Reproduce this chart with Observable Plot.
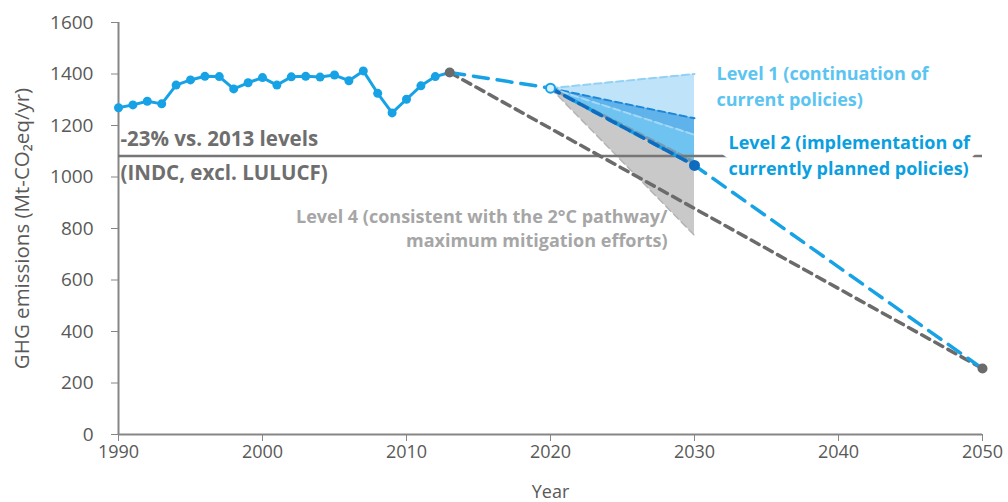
<!DOCTYPE html>
<html>
<head>
<meta charset="utf-8">
<script src="https://cdn.jsdelivr.net/npm/d3@7"></script>
<script src="https://cdn.jsdelivr.net/npm/@observablehq/plot@0.6"></script>
<style>
  html, body { margin: 0; padding: 0; background: #fff; }
  #chart svg { display: block; }
</style>
</head>
<body>
<div id="chart"></div>
<script>
// Historical GHG emissions (Mt-CO2eq/yr), 1990–2013
const histYears  = [1990, 1991, 1992, 1993, 1994, 1995, 1996, 1997, 1998, 1999, 2000, 2001,
                    2002, 2003, 2004, 2005, 2006, 2007, 2008, 2009, 2010, 2011, 2012, 2013];
const histValues = [1269, 1280, 1294, 1284, 1357, 1377, 1391, 1390, 1342, 1366, 1386, 1357,
                    1389, 1391, 1388, 1396, 1374, 1412, 1325, 1249, 1302, 1354, 1390, 1406];

// Projection path (level 2 / INDC trajectory)
const projYears  = [2013, 2020, 2030, 2050];
const projValues = [1406, 1345, 1045, 256];

// Straight path towards the 2050 goal
const goalYears  = [2013, 2050];
const goalValues = [1406, 256];

// Policy fans, spreading from 2020 to 2030
const fanYears   = [2020, 2030];
const level1Low  = [1345, 1228];
const level1High = [1345, 1400];
const overlapLow = [1345, 1164];
const level2Low  = [1345, 1045];
const level4Low  = [1345, 773];
const level4High = [1345, 1058];

// INDC target: -23% vs. 2013
const targetValue = 1082;

// Axis ticks
const xTicks = [1990, 2000, 2010, 2020, 2030, 2040, 2050];
const yTicks = [0, 200, 400, 600, 800, 1000, 1200, 1400, 1600];

const hist = histYears.map((year, i) => ({year, value: histValues[i]}));
const proj = projYears.map((year, i) => ({year, value: projValues[i]}));
const goal = goalYears.map((year, i) => ({year, value: goalValues[i]}));
const fan = fanYears.map((year, i) => ({
  year,
  l1lo: level1Low[i], l1hi: level1High[i],
  ovlo: overlapLow[i],
  l2lo: level2Low[i],
  l4lo: level4Low[i], l4hi: level4High[i]
}));
const fanEdge = (key) => fan.map(d => ({year: d.year, value: d[key]}));

const BLUE = "#17a2e6";
const GREY = "#6b6b6b";
const font = "'Open Sans', Lato, sans-serif";

const chart = Plot.plot({
  width: 1008,
  height: 502,
  marginLeft: 118,
  marginRight: 26,
  marginTop: 22,
  marginBottom: 68,
  style: {fontFamily: font, background: "#fff"},
  x: {domain: [1990, 2050]},
  y: {domain: [0, 1600]},
  marks: [
    // axes
    Plot.axisY({
      ticks: yTicks, tickFormat: d => String(d), tickSize: 7, tickPadding: 18,
      fontSize: 19, fill: "#595959", stroke: "#868686", label: null
    }),
    Plot.text(["GHG emissions (Mt-CO₂eq/yr)"], {
      frameAnchor: "left", rotate: -90, dx: -96, text: d => d,
      textAnchor: "middle", lineAnchor: "middle", fontSize: 20.5, fill: "#595959"
    }),
    Plot.axisX({
      ticks: xTicks, tickFormat: d => String(d), tickSize: 7, tickPadding: 4,
      fontSize: 18,
      fill: "#595959", stroke: "#868686",
      label: "Year", labelAnchor: "center", labelArrow: "none", labelOffset: 63
    }),

    // policy fans
    Plot.areaY(fan, {x: "year", y1: "l1lo", y2: "l1hi", fill: "#bfe4f9"}),
    Plot.areaY(fan, {x: "year", y1: "ovlo", y2: "l1lo", fill: "#5fb2ea"}),
    Plot.areaY(fan, {x: "year", y1: "l2lo", y2: "ovlo", fill: "#6ec3f1"}),
    Plot.areaY(fan, {x: "year", y1: "l4lo", y2: "l4hi", fill: "#939393", fillOpacity: 0.5}),

    // fan edges
    Plot.line(fanEdge("l1hi"), {x: "year", y: "value", stroke: "#92d1f4", strokeWidth: 2, strokeDasharray: "7,4"}),
    Plot.line(fanEdge("l1lo"), {x: "year", y: "value", stroke: "#1d86d6", strokeWidth: 2, strokeDasharray: "7,4"}),
    Plot.line(fanEdge("ovlo"), {x: "year", y: "value", stroke: "#a3d8f6", strokeWidth: 2, strokeDasharray: "7,4"}),
    Plot.line(fanEdge("l4hi"), {x: "year", y: "value", stroke: "#7a8f9c", strokeOpacity: 0.7, strokeWidth: 3, strokeDasharray: "8,4"}),
    Plot.line(fanEdge("l4lo"), {x: "year", y: "value", stroke: "#b4b4b4", strokeWidth: 1.5, strokeDasharray: "7,4"}),

    // axis lines
    Plot.ruleX([1990], {stroke: "#868686", strokeWidth: 2}),
    Plot.ruleY([0], {stroke: "#868686", strokeWidth: 2}),

    // INDC target line
    Plot.ruleY([targetValue], {stroke: "#767676", strokeWidth: 2.5}),
    Plot.text([targetValue], {
      x: 1990, y: d => d, dx: 2, dy: -4, textAnchor: "start",
      text: () => "-23% vs. 2013 levels\n(INDC, excl. LULUCF)",
      lineHeight: 1.65, fontSize: 20.5, fontWeight: "bold", fill: "#6e6e6e"
    }),
    Plot.text([targetValue], {
      x: 2030, y: d => d, dx: 34, dy: -2, textAnchor: "start",
      text: () => "Level 2 (implementation of\ncurrently planned policies)",
      lineHeight: 1.4, fontSize: 18, fontWeight: "bold", fill: "#0a9fe0",
      stroke: "#fff", strokeWidth: 18, strokeLinejoin: "round"
    }),

    // other level labels
    Plot.text([1348], {
      x: 2030, y: d => d, dx: 22, dy: -3, textAnchor: "start",
      text: () => "Level 1 (continuation of\ncurrent policies)",
      lineHeight: 1.45, fontSize: 18, fontWeight: "bold", fill: "#5bc4f1"
    }),
    Plot.text([796], {
      x: 2030, y: d => d, dx: -27, dy: -2, textAnchor: "end",
      text: () => "Level 4 (consistent with the 2°C pathway/\nmaximum mitigation efforts)",
      lineHeight: 1.35, fontSize: 18, fontWeight: "bold", fill: "#a6a6a6"
    }),

    // projections
    Plot.line(goal, {x: "year", y: "value", stroke: GREY, strokeWidth: 3.5, strokeDasharray: "9,6"}),
    Plot.line(proj, {x: "year", y: "value", stroke: BLUE, strokeWidth: 3.5, strokeDasharray: "15,9"}),
    Plot.line(fanEdge("l2lo"), {x: "year", y: "value", stroke: "#0d6cbf", strokeWidth: 3.5, strokeDasharray: "10,6"}),

    // history
    Plot.line(hist, {x: "year", y: "value", stroke: BLUE, strokeWidth: 3}),
    Plot.dot(hist, {x: "year", y: "value", r: 4.5, fill: BLUE}),

    // key points
    Plot.dot([goal[0], goal[1]], {x: "year", y: "value", r: 5, fill: GREY}),
    Plot.dot([proj[1]], {x: "year", y: "value", r: 4.5, fill: "#d9effb", stroke: BLUE, strokeWidth: 2}),
    Plot.dot([proj[2]], {x: "year", y: "value", r: 5.5, fill: "#0d6cbf"})
  ]
});

document.getElementById("chart").appendChild(chart);
</script>
</body>
</html>
